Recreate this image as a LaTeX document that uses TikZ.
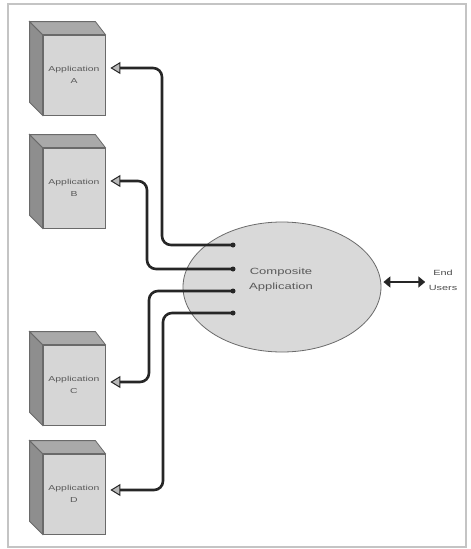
\documentclass[tikz,border=0pt]{standalone}
\usepackage{fontspec}
\setmainfont{Liberation Sans}
\newfontfamily\boxfont[FakeStretch=1.45]{Liberation Sans}
\usetikzlibrary{arrows.meta,calc,shapes.geometric}
\definecolor{frontgray}{HTML}{D6D6D6}
\definecolor{topgray}{HTML}{A9A9A9}
\definecolor{sidegray}{HTML}{8E8E8E}
\definecolor{edgegray}{HTML}{6A6A6A}
\definecolor{ellfill}{HTML}{D9D9D9}
\definecolor{linedark}{HTML}{262626}
\definecolor{framegray}{HTML}{C4C4C4}
\tikzset{
  appbox/.style={draw=edgegray, line width=0.8pt, fill=frontgray, minimum width=62pt, minimum height=80pt,
    inner sep=0pt, align=center, font=\boxfont\fontsize{7.2}{12}\selectfont, text=black!65},
  sideface/.style={draw=edgegray, line width=0.8pt, fill=sidegray},
  topface/.style={draw=edgegray, line width=0.8pt, fill=topgray},
  conn/.style={draw=linedark, line width=2.6pt, rounded corners=9pt,
    -{Triangle[length=10pt,width=12pt,fill=gray!55,line width=1pt]}},
  enddot/.style={circle, fill=linedark, inner sep=0pt, minimum size=5pt},
}
\begin{document}
\begin{tikzpicture}[x=1pt,y=-1pt]
\useasboundingbox (0,0) rectangle (471,549);
\draw[framegray, line width=1.5pt] (8,4) rectangle (466,547);

% ellipse
\node[draw=edgegray, line width=0.8pt, fill=ellfill, ellipse, minimum width=198pt, minimum height=130pt,
  inner sep=0pt] (comp) at (282,287) {};
\node[font=\boxfont\fontsize{9}{15}\selectfont, text=black!65, align=center] (comptxt) at (281,280) {Composite\\Application};

% application boxes
\foreach \nm/\lab/\cy in {A/A/75, B/B/188, C/C/385, D/D/494}{
  \node[appbox] (\nm) at (74,\cy) {Application\\\lab};
  \draw[sideface] (\nm.north west) -- ++(-13,-13) -- ($(\nm.south west)+(-13,-13)$) -- (\nm.south west) -- cycle;
  \draw[topface] (\nm.north west) -- ++(-13,-13) -- ($(\nm.north east)+(-10,-13)$) -- (\nm.north east) -- cycle;
}

% end dots
\node[enddot] (pA) at (233,245) {};
\node[enddot] (pB) at (233,269) {};
\node[enddot] (pC) at (233,291) {};
\node[enddot] (pD) at (233,313) {};

% connectors
\draw[conn] (pA.center) -- (162,245) -- (162,68) -- ([shift={(5,-7)}]A.east);
\draw[conn] (pB.center) -- (147,269) -- (147,181) -- ([shift={(5,-7)}]B.east);
\draw[conn] (pC.center) -- (149,291) -- (149,382) -- ([shift={(5,-3)}]C.east);
\draw[conn] (pD.center) -- (163,313) -- (163,490) -- ([shift={(5,-4)}]D.east);

% end users
\node[font=\boxfont\fontsize{7.5}{15}\selectfont, text=black!70, align=center] (users) at (443,280) {End\\Users};
\draw[draw=linedark, line width=2.6pt, {Triangle[length=7pt,width=11pt]}-{Triangle[length=7pt,width=11pt]}]
  (comp.east) ++(2,-5) coordinate (ce) -- (ce -| users.west);
\end{tikzpicture}
\end{document}
